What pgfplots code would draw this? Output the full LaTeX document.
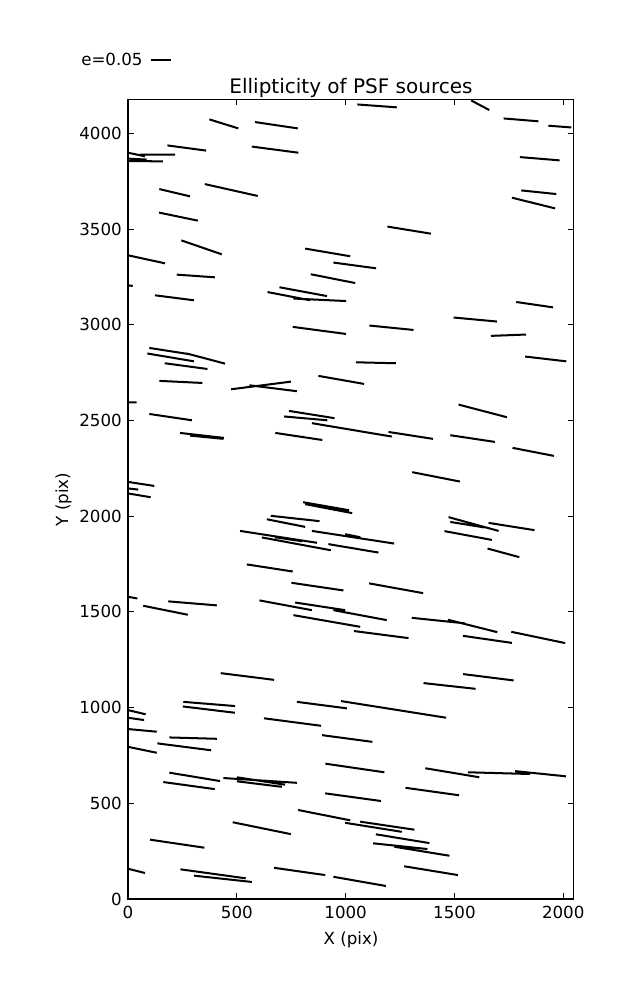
\documentclass[border=0pt]{standalone}
\usepackage{fontspec}
\setmainfont{DejaVu Sans}
\usepackage{pgfplots}
\pgfplotsset{compat=1.18}
\begin{document}
\begin{tikzpicture}
\useasboundingbox (0,0) rectangle (458.64pt,720pt);
\begin{axis}[
  at={(92.16pt,72.72pt)}, anchor=south west,
  width=320.9pt, height=575.5pt, scale only axis,
  xmin=0, xmax=2048, ymin=0, ymax=4176,
  xtick={0,500,1000,1500,2000},
  ytick={0,500,1000,1500,2000,2500,3000,3500,4000},
  scaled ticks=false,
  /pgf/number format/1000 sep={},
  /pgf/number format/assume math mode=true,
  ticklabel style={font=\fontsize{12}{14}\selectfont},
  xticklabel style={anchor=north, inner sep=0pt, yshift=-5pt},
  yticklabel style={anchor=east, inner sep=0pt, xshift=-4.3pt},
  major tick length=4.1pt,
  tick style={black, line width=0.7pt},
  axis line style={line width=0.8pt},
  unbounded coords=jump,
]
\addplot[black, line width=1.45pt, line cap=butt] table {
x y
374 4073
507 4026
nan nan
584 4059
780 4026
nan nan
181 3937
359 3910
nan nan
569 3931
783 3899
nan nan
0 3899
78 3880
nan nan
55 3889
216 3889
nan nan
0 3868
86 3863
nan nan
0 3855
160 3854
nan nan
144 3709
285 3671
nan nan
353 3735
596 3673
nan nan
143 3586
321 3544
nan nan
245 3441
431 3368
nan nan
0 3363
170 3321
nan nan
224 3262
399 3248
nan nan
0 3206
22 3203
nan nan
124 3154
303 3128
nan nan
814 3398
1021 3358
nan nan
944 3325
1140 3295
nan nan
840 3264
1044 3218
nan nan
696 3196
914 3150
nan nan
641 3171
837 3128
nan nan
760 3137
1002 3124
nan nan
1054 4151
1235 4136
nan nan
1577 4172
1660 4122
nan nan
1726 4078
1886 4063
nan nan
1932 4040
2037 4031
nan nan
1801 3876
1983 3859
nan nan
1807 3702
1968 3683
nan nan
1764 3664
1963 3608
nan nan
1192 3513
1392 3476
nan nan
757 2989
1002 2952
nan nan
98 2879
285 2846
nan nan
270 2850
446 2797
nan nan
89 2850
303 2809
nan nan
169 2799
365 2769
nan nan
144 2707
342 2696
nan nan
474 2663
749 2703
nan nan
558 2684
776 2653
nan nan
875 2733
1085 2691
nan nan
0 2594
40 2594
nan nan
98 2534
294 2501
nan nan
239 2435
441 2409
nan nan
285 2421
438 2404
nan nan
740 2550
949 2512
nan nan
717 2521
916 2501
nan nan
845 2486
1212 2416
nan nan
677 2435
893 2398
nan nan
0 2179
121 2158
nan nan
0 2145
47 2139
nan nan
0 2119
104 2099
nan nan
1784 3119
1953 3091
nan nan
1496 3038
1695 3017
nan nan
1109 2996
1312 2973
nan nan
1668 2942
1829 2949
nan nan
1047 2804
1231 2799
nan nan
1825 2834
2014 2809
nan nan
1519 2583
1741 2517
nan nan
1197 2440
1401 2404
nan nan
1481 2423
1686 2388
nan nan
1767 2357
1957 2315
nan nan
1306 2230
1525 2181
nan nan
805 2073
1016 2031
nan nan
814 2063
1030 2016
nan nan
656 2002
880 1974
nan nan
638 1984
814 1944
nan nan
515 1923
868 1861
nan nan
615 1889
932 1822
nan nan
676 1890
800 1869
nan nan
845 1923
1223 1857
nan nan
998 1906
1067 1890
nan nan
921 1854
1151 1810
nan nan
546 1748
757 1711
nan nan
751 1652
990 1612
nan nan
0 1579
43 1570
nan nan
185 1555
408 1534
nan nan
70 1532
275 1485
nan nan
604 1560
845 1509
nan nan
768 1549
998 1509
nan nan
944 1509
1189 1457
nan nan
760 1483
1067 1422
nan nan
426 1180
671 1145
nan nan
1473 1995
1703 1923
nan nan
1481 1970
1638 1941
nan nan
1657 1965
1868 1927
nan nan
1454 1922
1672 1876
nan nan
1652 1831
1798 1786
nan nan
1108 1649
1356 1598
nan nan
1304 1469
1549 1440
nan nan
1470 1459
1697 1394
nan nan
1761 1396
2009 1337
nan nan
1038 1400
1289 1363
nan nan
1539 1375
1764 1338
nan nan
1540 1175
1772 1142
nan nan
1358 1128
1597 1098
nan nan
254 1030
492 1008
nan nan
252 1006
491 973
nan nan
0 987
81 965
nan nan
0 947
74 935
nan nan
0 888
132 874
nan nan
190 844
408 837
nan nan
135 813
382 777
nan nan
0 795
132 764
nan nan
776 1030
1006 996
nan nan
979 1034
1462 947
nan nan
625 944
887 905
nan nan
892 856
1123 821
nan nan
190 660
423 616
nan nan
162 611
399 574
nan nan
438 632
776 607
nan nan
500 636
722 597
nan nan
500 615
707 586
nan nan
907 707
1178 662
nan nan
906 552
1162 512
nan nan
782 465
1021 411
nan nan
998 398
1258 351
nan nan
1067 404
1316 362
nan nan
481 401
748 339
nan nan
101 310
351 268
nan nan
0 158
78 136
nan nan
241 155
541 108
nan nan
303 122
569 89
nan nan
671 163
906 125
nan nan
944 116
1185 68
nan nan
1366 683
1614 636
nan nan
1562 662
1848 653
nan nan
1779 668
2012 641
nan nan
1275 581
1521 542
nan nan
1139 338
1385 292
nan nan
1126 291
1376 261
nan nan
1224 273
1477 226
nan nan
1269 171
1516 125
};
\end{axis}
\begin{scope}[x=0.72pt, y=-0.72pt, shift={(0pt,720pt)}]
  \node[anchor=base, inner sep=0pt, font=\fontsize{14.4}{17}\selectfont] at (351,94) {Ellipticity of PSF sources};
  \node[anchor=base, inner sep=0pt, font=\fontsize{12}{14}\selectfont] at (351,944) {X (pix)};
  \node[anchor=base, inner sep=0pt, rotate=90, font=\fontsize{12}{14}\selectfont] at (68,499.5) {Y (pix)};
  \node[anchor=base west, inner sep=0pt, font=\fontsize{12}{14}\selectfont] at (81,66) {e=0.05};
  \draw[black, line width=1.45pt] (151,60) -- (171,60);
\end{scope}
\end{tikzpicture}
\end{document}
